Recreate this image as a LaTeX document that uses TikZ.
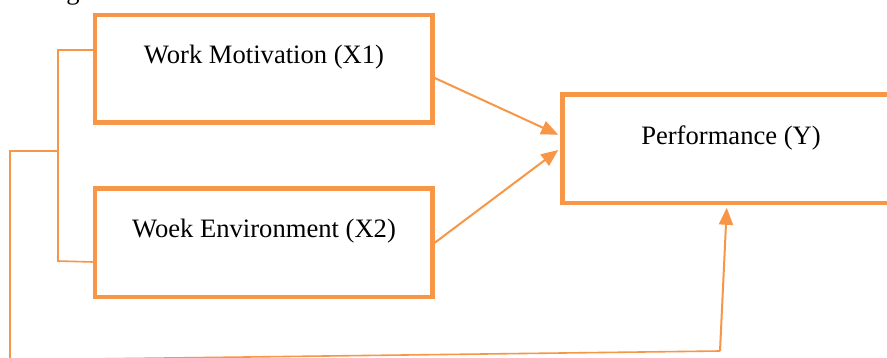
\documentclass[tikz,border=0pt]{standalone}
\usepackage{fontspec}
\setmainfont{Liberation Serif}
\usetikzlibrary{arrows.meta,calc}
\definecolor{accent}{HTML}{F79646}
\begin{document}
\begin{tikzpicture}[x=0.5pt,y=-0.5pt,
  box/.style={draw=accent, line width=2.25pt, inner sep=0pt, minimum width=#1},
  lbl/.style={font=\fontsize{13.3}{16}\selectfont, inner sep=0pt},
  conn/.style={draw=accent, line width=1pt, -{Triangle[length=8.5pt,width=7pt]}},
  link/.style={draw=accent, line width=0.8pt}]
\useasboundingbox (0,0) rectangle (887,358);
\clip (0,0) rectangle (887,358);
\fill[white] (0,0) rectangle (887,358);
% fragment of text above the figure
\node[lbl, anchor=base east] (frag) at (80,0) {Planning};
% boxes
\node[box=168.75pt, minimum height=53.75pt] (x1) at (263.75,68.75) {};
\node[box=168.75pt, minimum height=54.25pt] (x2) at (263.75,242.75) {};
\node[box=218.75pt, minimum height=54.25pt] (y) at (781.25,148.75) {};
% labels
\node[lbl] (t1) at (264,57) {Work Motivation (X1)};
\node[lbl] (t2) at (264,231) {Woek Environment (X2)};
\node[lbl] (t3) at (731,138) {Performance (Y)};
% arrows into Y
\draw[conn] ($(x1.east)+(0,9.25)$) -- ($(y.west)+(-2,-14)$);
\draw[conn] (x2.east) -- ($(y.west)+(-2,1.25)$);
% bracket joining X1 and X2
\coordinate (b1) at (58,50);
\coordinate (b2) at (58,261);
\coordinate (b3) at (58,151);
\coordinate (b4) at (10,151);
\coordinate (b5) at (10,360);
\coordinate (b6) at (720,351);
\draw[link] ($(x1.west)+(0,-18.75)$) -- (b1) -- (b2) -- ($(x2.west)+(0,19.25)$);
\draw[link] (b3) -- (b4) -- (b5) -- (b6);
\draw[conn] (b6) -- ($(y.south west)+(166.5,2.5)$);
\end{tikzpicture}
\end{document}
